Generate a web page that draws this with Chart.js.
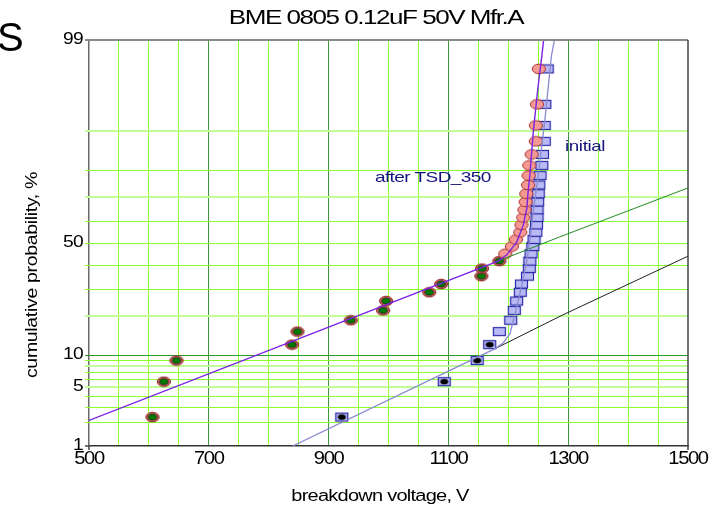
<!DOCTYPE html>
<html><head><meta charset="utf-8">
<script src="https://cdn.jsdelivr.net/npm/chart.js@4.4.0/dist/chart.umd.min.js"></script>
<style>html,body{margin:0;padding:0;background:#fff}canvas{display:block}</style>
</head><body>
<canvas id="c" width="724" height="509"></canvas>
<script>
// ---------------- data ----------------
const chartTitle = 'BME 0805 0.12uF 50V Mfr.A';
const xTitle = 'breakdown voltage, V';
const yTitle = 'cumulative probability, %';
const labelAfter = 'after TSD_350';
const labelInitial = 'initial';
const xTickLabels = [500, 700, 900, 1100, 1300, 1500];
const yLabelPcts = [1, 5, 10, 50, 99];
const yGridPcts = [2, 3, 4, 5, 6, 7, 8, 9, 10, 20, 30, 40, 50, 60, 70, 80, 90];

// cumulative probability (%) of each ranked sample
const rankPct = [2.3, 5.6, 8.9, 12.2, 15.5, 18.8, 22.0, 25.3, 28.6, 31.9, 35.2, 38.5, 41.8, 45.1, 48.4,
                 51.6, 54.9, 58.2, 61.5, 64.8, 68.1, 71.4, 74.7, 78.0, 81.3, 84.5, 87.8, 91.1, 94.4, 97.7];
// breakdown voltages (V)
const afterV = [606, 625, 646, 839, 848, 937, 991, 996, 1068, 1088, 1155, 1156, 1185, 1195, 1206,
                1213, 1220, 1222, 1225, 1227, 1229, 1230, 1233, 1234, 1235, 1239, 1246, 1246, 1248, 1251];
const initialV = [922, 1093, 1148, 1169, 1185, 1204, 1210, 1214, 1220, 1222, 1232, 1235, 1236, 1238, 1241,
                  1243, 1246, 1247, 1248, 1248, 1249, 1250, 1251, 1253, 1256, 1257, 1260, 1260, 1261, 1265];
const afterEarlyCount = 13;   // points marked with a green centre
const initialEarlyCount = 4;  // points marked with a black centre

// fitted curves (V, %)
const afterFitV = [500, 1183, 1197, 1214, 1225, 1231, 1233, 1236, 1242, 1249, 1256, 1259];
const afterFitP = [2.1, 41.8, 44.5, 50.4, 58.1, 65.5, 72.0, 78.2, 90.2, 96.0, 98.4, 99.0];
const afterTailV = [1183, 1286, 1500];
const afterTailP = [41.8, 52.8, 73.6];
const initFitV = [840, 1178, 1191, 1203, 1214, 1222, 1231, 1236, 1242, 1249, 1261, 1272, 1277];
const initFitP = [1.0, 11.3, 12.5, 15.0, 23.2, 30.7, 42.2, 51.3, 64.7, 76.4, 92.0, 98.4, 99.0];
const initTailV = [1178, 1290, 1500];
const initTailP = [11.3, 20.4, 44.0];

// ---------------- helpers ----------------
function probit(pct) { // inverse normal CDF (Acklam)
  const p = pct / 100;
  const a = [-3.969683028665376e+01, 2.209460984245205e+02, -2.759285104469687e+02, 1.383577518672690e+02, -3.066479806614716e+01, 2.506628277459239e+00];
  const b = [-5.447609879822406e+01, 1.615858368580409e+02, -1.556989798598866e+02, 6.680131188771972e+01, -1.328068155288572e+01];
  const c = [-7.784894002430293e-03, -3.223964580411365e-01, -2.400758277161838e+00, -2.549732539343734e+00, 4.374664141464968e+00, 2.938163982698783e+00];
  const d = [7.784695709041462e-03, 3.224671290700398e-01, 2.445134137142996e+00, 3.754408661907416e+00];
  const pl = 0.02425, ph = 1 - pl;
  let q, r;
  if (p < pl) { q = Math.sqrt(-2 * Math.log(p)); return (((((c[0]*q+c[1])*q+c[2])*q+c[3])*q+c[4])*q+c[5]) / ((((d[0]*q+d[1])*q+d[2])*q+d[3])*q+1); }
  if (p <= ph) { q = p - 0.5; r = q*q; return (((((a[0]*r+a[1])*r+a[2])*r+a[3])*r+a[4])*r+a[5])*q / (((((b[0]*r+b[1])*r+b[2])*r+b[3])*r+b[4])*r+1); }
  q = Math.sqrt(-2 * Math.log(1 - p)); return -(((((c[0]*q+c[1])*q+c[2])*q+c[3])*q+c[4])*q+c[5]) / ((((d[0]*q+d[1])*q+d[2])*q+d[3])*q+1);
}
const pts = (xs, ps) => xs.map((x, i) => ({ x: x, y: probit(ps[i]) }));

function mk(w, h, draw) { const cv = document.createElement('canvas'); cv.width = w; cv.height = h; draw(cv.getContext('2d')); return cv; }
function ell(g, cx, cy, rx, ry, fill, stroke, lw) { g.beginPath(); g.ellipse(cx, cy, rx, ry, 0, 0, Math.PI * 2); g.fillStyle = fill; g.fill(); if (stroke) { g.lineWidth = lw || 1; g.strokeStyle = stroke; g.stroke(); } }
const pinkPt = mk(16, 12, g => ell(g, 8, 6, 6.6, 4.8, '#f59a92', '#a83030', 1));
const greenPt = mk(16, 12, g => { ell(g, 8, 6, 6.6, 4.8, '#d46a66', '#8c2424', 1); ell(g, 8, 6, 4.3, 3.0, '#007a00', '#1a1a1a', 0.8); });
const sqPt = mk(15, 11, g => { g.fillStyle = '#b9b9f6'; g.fillRect(1.5, 1.5, 12, 8); g.strokeStyle = '#2a2aa8'; g.lineWidth = 1.2; g.strokeRect(1.5, 1.5, 12, 8); });
const sqBlkPt = mk(15, 11, g => { g.fillStyle = '#b9b9f6'; g.fillRect(1.5, 1.5, 12, 8); g.strokeStyle = '#2a2aa8'; g.lineWidth = 1.2; g.strokeRect(1.5, 1.5, 12, 8); ell(g, 7.5, 5.5, 4, 2.8, '#000', null); });

const FONT = '"Liberation Sans", Arial, sans-serif';
function txt(ctx, s, x, y, o) {
  ctx.save();
  ctx.translate(x, y);
  if (o.rot) ctx.rotate(o.rot);
  ctx.scale(o.sx || 1, 1);
  ctx.font = (o.size || 14) + 'px ' + FONT;
  try { ctx.letterSpacing = (o.ls || 0) + 'px'; } catch (e) {}
  ctx.fillStyle = o.color || '#000';
  ctx.textAlign = o.align || 'center';
  ctx.textBaseline = 'middle';
  ctx.fillText(s, 0, 0);
  ctx.restore();
}

const C_MAJOR = '#3a9c3a', C_LIME = '#8cff2a', C_PALE = '#c0ff96', C_TEN = '#2a9a2a';
const palePcts = [5, 8, 20, 70, 90];

// horizontal probability grid, placed through the y scale
const probGrid = {
  id: 'probGrid',
  beforeDatasetsDraw(chart) {
    const ctx = chart.ctx, a = chart.chartArea, ys = chart.scales.y;
    ctx.save();
    yGridPcts.forEach(p => {
      const pale = palePcts.includes(p);
      const y = Math.round(ys.getPixelForValue(probit(p))) + (pale ? 0 : 0.5);
      ctx.lineWidth = pale ? 2 : 1;
      ctx.strokeStyle = p === 10 ? C_TEN : (pale ? C_PALE : C_LIME);
      ctx.beginPath(); ctx.moveTo(a.left - 4, y); ctx.lineTo(a.right, y); ctx.stroke();
    });
    ctx.restore();
  }
};

const deco = {
  id: 'deco',
  afterDraw(chart) {
    const ctx = chart.ctx, a = chart.chartArea, xs = chart.scales.x, ys = chart.scales.y;
    ctx.save();
    ctx.strokeStyle = '#8a8a8a'; ctx.lineWidth = 2;
    ctx.beginPath(); ctx.moveTo(a.left - 4, a.top); ctx.lineTo(a.right, a.top); ctx.stroke();
    ctx.strokeStyle = '#444'; ctx.lineWidth = 1.5;
    ctx.beginPath(); ctx.moveTo(a.right, a.top); ctx.lineTo(a.right, a.bottom + 4); ctx.stroke();
    ctx.beginPath(); ctx.moveTo(a.left, a.bottom); ctx.lineTo(a.left, a.bottom + 4); ctx.stroke();
    ctx.beginPath(); ctx.moveTo(a.left - 4, a.bottom); ctx.lineTo(a.left, a.bottom); ctx.stroke();
    ctx.restore();
    yLabelPcts.forEach(p => txt(ctx, String(p), 83, ys.getPixelForValue(probit(p)), { size: 16, sx: 1.2, ls: -0.6, align: 'right' }));
    xTickLabels.forEach(v => txt(ctx, String(v), xs.getPixelForValue(v), 459, { size: 18, sx: 1.12, ls: -1.2 }));
    txt(ctx, chartTitle, 376, 18, { size: 21, sx: 1.24, ls: -1.2 });
    txt(ctx, xTitle, 380, 497, { size: 16, sx: 1.25, ls: -0.6 });
    txt(ctx, yTitle, 32, 275, { size: 17, sx: 1.15, ls: -0.3, rot: -Math.PI / 2 });
    txt(ctx, labelInitial, 565, 147, { size: 15, sx: 1.25, ls: -0.3, align: 'left', color: '#14147e' });
    txt(ctx, labelAfter, 375, 178, { size: 15, sx: 1.27, ls: -0.5, align: 'left', color: '#14147e' });
    txt(ctx, 'S', -3, 40, { size: 40, align: 'left' });
  }
};

new Chart(document.getElementById('c'), {
  type: 'scatter',
  data: {
    datasets: [
      { type: 'line', data: pts(afterFitV, afterFitP), borderColor: '#7a22e6', borderWidth: 1.4, pointRadius: 0, fill: false, tension: 0 },
      { type: 'line', data: pts(initFitV, initFitP), borderColor: '#8a8ad0', borderWidth: 1.3, pointRadius: 0, fill: false, tension: 0 },
      { type: 'line', data: pts(afterTailV, afterTailP), borderColor: '#1e8a1e', borderWidth: 1, pointRadius: 0, fill: false },
      { type: 'line', data: pts(initTailV, initTailP), borderColor: '#222', borderWidth: 1, pointRadius: 0, fill: false },
      { data: pts(afterV, rankPct), pointStyle: c => c.dataIndex < afterEarlyCount ? greenPt : pinkPt, pointRadius: 6 },
      { data: pts(initialV, rankPct), pointStyle: c => c.dataIndex < initialEarlyCount ? sqBlkPt : sqPt, pointRadius: 6 }
    ]
  },
  options: {
    responsive: false, animation: false,
    layout: { padding: { left: 89, top: 40, right: 36, bottom: 63 }, autoPadding: false },
    plugins: { legend: { display: false }, tooltip: { enabled: false }, title: { display: false } },
    scales: {
      x: {
        type: 'linear', min: 500, max: 1500,
        afterFit: s => { s.height = 0; },
        ticks: { display: false, stepSize: 50, autoSkip: false },
        grid: {
          drawTicks: false, lineWidth: 1,
          color: c => { const v = c.tick.value; if (v <= 500 || v >= 1500) return 'rgba(0,0,0,0)'; return ((v - 500) % 200 === 0) ? C_MAJOR : C_LIME; }
        },
        border: { color: '#333', width: 1.5 }
      },
      y: {
        type: 'linear', min: probit(1), max: probit(99),
        afterFit: s => { s.width = 0; },
        ticks: { display: false },
        grid: { display: false },
        border: { display: true, color: '#6a6a6a', width: 1.5 }
      }
    }
  },
  plugins: [probGrid, deco]
});
</script>
</body></html>
